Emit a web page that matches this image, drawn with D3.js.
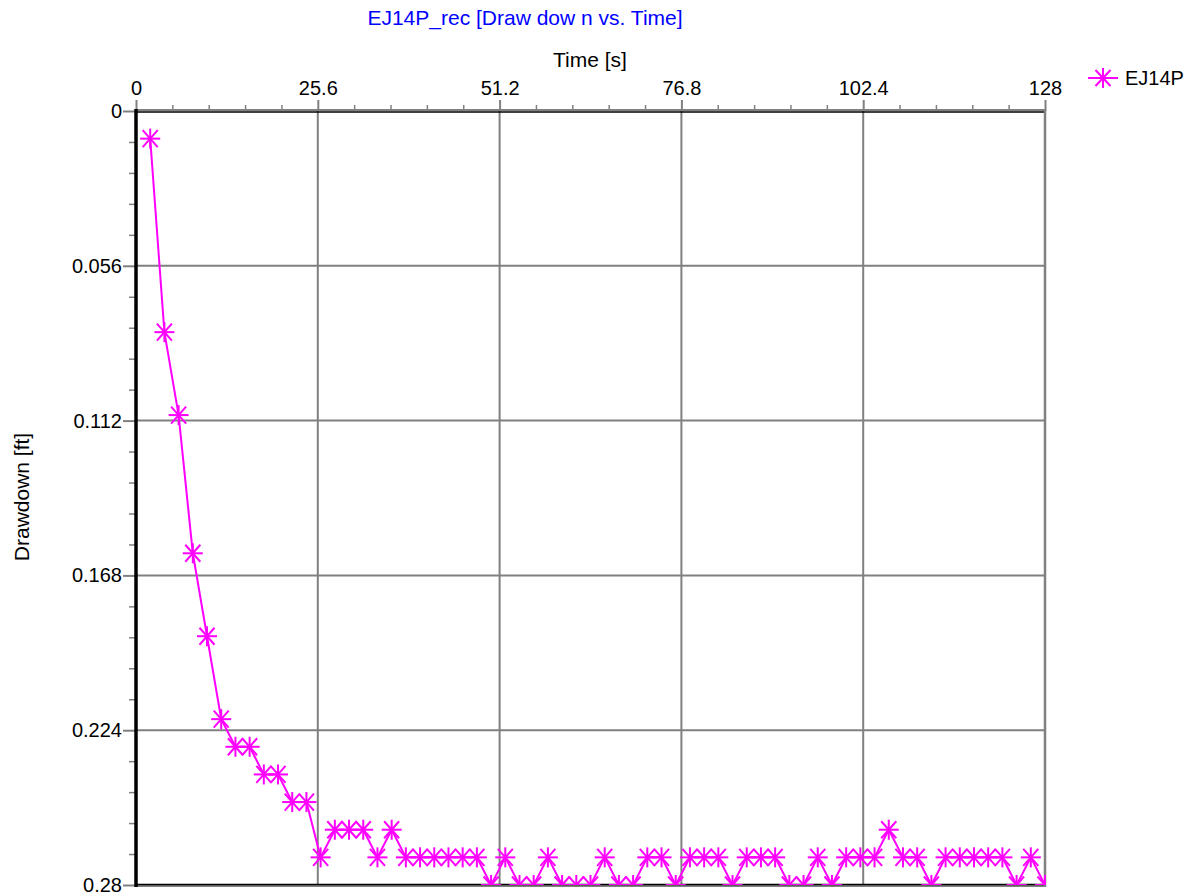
<!DOCTYPE html>
<html>
<head>
<meta charset="utf-8">
<script src="https://cdn.jsdelivr.net/npm/d3@7"></script>
<style>
  html, body { margin: 0; padding: 0; background: #fff; }
  svg { display: block; font-family: "Liberation Sans", Arial, sans-serif; }
</style>
</head>
<body>
<svg id="chart" width="1199" height="896"></svg>
<script>
// ---- Data ----
const seriesName = "EJ14P";
const timeValues = [2,4,6,8,10,12,14,16,18,20,22,24,26,28,30,32,34,36,38,40,42,44,46,48,50,52,54,56,58,60,62,64,66,68,70,72,74,76,78,80,82,84,86,88,90,92,94,96,98,100,102,104,106,108,110,112,114,116,118,120,122,124,126,128];
const drawdownValues = [0.010,0.080,0.110,0.160,0.190,0.220,0.230,0.230,0.240,0.240,0.250,0.250,0.270,0.260,0.260,0.260,0.270,0.260,0.270,0.270,0.270,0.270,0.270,0.270,0.280,0.270,0.280,0.280,0.270,0.280,0.280,0.280,0.270,0.280,0.280,0.270,0.270,0.280,0.270,0.270,0.270,0.280,0.270,0.270,0.270,0.280,0.280,0.270,0.280,0.270,0.270,0.270,0.260,0.270,0.270,0.280,0.270,0.270,0.270,0.270,0.270,0.280,0.270,0.280];
const xTickValues = [0, 25.6, 51.2, 76.8, 102.4, 128];
const xTickLabels = ["0", "25.6", "51.2", "76.8", "102.4", "128"];
const yTickValues = [0, 0.056, 0.112, 0.168, 0.224, 0.28];
const yTickLabels = ["0", "0.056", "0.112", "0.168", "0.224", "0.28"];
const titleText = "EJ14P_rec [Draw dow n vs. Time]";
const xAxisTitle = "Time [s]";
const yAxisTitle = "Drawdown [ft]";

const data = timeValues.map((t, i) => ({ t, v: drawdownValues[i] }));

// ---- Layout ----
const L = 136, R = 1045, T = 111, B = 885;
const FS = 20;
const FS_T = 21;
const FONT = "Liberation Sans, Arial, sans-serif";
const svg = d3.select("#chart");
const x = d3.scaleLinear().domain([0, 128]).range([L, R]);
const y = d3.scaleLinear().domain([0, 0.28]).range([T, B]);
const magenta = "#ff00ff";
const gridColor = "#808080";

// minor tick values
const xMinor = d3.range(0, 128.001, 5.12).filter(v => !xTickValues.some(m => Math.abs(m - v) < 1e-6));
const yMinor = d3.range(0, 0.28001, 0.0112).filter(v => !yTickValues.some(m => Math.abs(m - v) < 1e-9));

// Grid
const grid = svg.append("g");
grid.selectAll("line.vg").data(xTickValues.slice(1)).join("line")
  .attr("x1", d => x(d)).attr("x2", d => x(d)).attr("y1", T).attr("y2", B)
  .attr("stroke", gridColor).attr("stroke-width", 2);
grid.selectAll("line.hg").data(yTickValues.slice(1, -1)).join("line")
  .attr("x1", L).attr("x2", R).attr("y1", d => y(d)).attr("y2", d => y(d))
  .attr("stroke", gridColor).attr("stroke-width", 2);

// Frame: top & bottom gray + black
svg.append("line").attr("x1", L).attr("x2", R + 1).attr("y1", T - 1).attr("y2", T - 1).attr("stroke", gridColor).attr("stroke-width", 2);
svg.append("line").attr("x1", L).attr("x2", R + 1).attr("y1", T + 1).attr("y2", T + 1).attr("stroke", "#000").attr("stroke-width", 1.5);
svg.append("line").attr("x1", L).attr("x2", R + 1).attr("y1", B + 1).attr("y2", B + 1).attr("stroke", gridColor).attr("stroke-width", 2);
svg.append("line").attr("x1", L).attr("x2", R + 1).attr("y1", B - 0.5).attr("y2", B - 0.5).attr("stroke", "#000").attr("stroke-width", 1.5);

// Top axis
const xAxis = d3.axisTop(x).tickValues(xTickValues).tickSize(11).tickPadding(5)
  .tickFormat((d, i) => xTickLabels[i]);
const gx = svg.append("g").attr("transform", `translate(0,${T})`).call(xAxis)
  .attr("font-size", FS).attr("font-family", FONT);
gx.select(".domain").remove();
gx.selectAll(".tick line").attr("stroke", gridColor).attr("stroke-width", 2);
gx.selectAll(".tick text").attr("fill", "#000");
const xAxisMinor = d3.axisTop(x).tickValues(xMinor).tickSize(6).tickFormat("");
const gxm = svg.append("g").attr("transform", `translate(0,${T})`).call(xAxisMinor);
gxm.select(".domain").remove();
gxm.selectAll(".tick line").attr("stroke", gridColor).attr("stroke-width", 1.5);

// Left axis
const yAxis = d3.axisLeft(y).tickValues(yTickValues).tickSize(13).tickPadding(1)
  .tickFormat((d, i) => yTickLabels[i]);
const gy = svg.append("g").attr("transform", `translate(${L},0)`).call(yAxis)
  .attr("font-size", FS).attr("font-family", FONT);
gy.select(".domain").remove();
gy.selectAll(".tick line").attr("stroke", gridColor).attr("stroke-width", 2);
gy.selectAll(".tick text").attr("fill", "#000");
const yAxisMinor = d3.axisLeft(y).tickValues(yMinor).tickSize(7).tickFormat("");
const gym = svg.append("g").attr("transform", `translate(${L},0)`).call(yAxisMinor);
gym.select(".domain").remove();
gym.selectAll(".tick line").attr("stroke", gridColor).attr("stroke-width", 1.5);

// Right border
svg.append("line").attr("x1", R).attr("x2", R).attr("y1", T - 1).attr("y2", B + 2)
  .attr("stroke", gridColor).attr("stroke-width", 2.5);
// Left thick black axis line
svg.append("line").attr("x1", L).attr("x2", L).attr("y1", T - 2).attr("y2", B + 2)
  .attr("stroke", "#000").attr("stroke-width", 3.5);

// Clip
svg.append("defs").append("clipPath").attr("id", "plotclip")
  .append("rect").attr("x", L + 1).attr("y", T).attr("width", R - L).attr("height", B - T);

const plot = svg.append("g").attr("clip-path", "url(#plotclip)");
const line = d3.line().x(d => x(d.t)).y(d => y(d.v));
plot.append("path").datum(data).attr("d", line)
  .attr("fill", "none").attr("stroke", magenta).attr("stroke-width", 2);

function asterisk(sel, s, dgx, dgy) {
  const segs = [[-s, 0, s, 0], [0, -s, 0, s], [-dgx, -dgy, dgx, dgy], [-dgx, dgy, dgx, -dgy]];
  sel.selectAll("line").data(segs).join("line")
    .attr("x1", d => d[0]).attr("y1", d => d[1]).attr("x2", d => d[2]).attr("y2", d => d[3])
    .attr("stroke", magenta).attr("stroke-width", 2);
}
plot.selectAll("g.mk").data(data).join("g").attr("class", "mk")
  .attr("transform", d => `translate(${x(d.t)},${y(d.v)})`)
  .each(function () { asterisk(d3.select(this), 10, 7.5, 8.5); });

// Titles
svg.append("text").attr("x", 525).attr("y", 25).attr("text-anchor", "middle")
  .attr("font-size", FS_T).attr("fill", "#0000ff").text(titleText);
svg.append("text").attr("x", 590).attr("y", 67).attr("text-anchor", "middle")
  .attr("font-size", FS_T).attr("fill", "#000").text(xAxisTitle);
svg.append("text").attr("transform", "translate(29,497) rotate(-90)").attr("text-anchor", "middle")
  .attr("font-size", FS_T).attr("fill", "#000").text(yAxisTitle);

// Legend
const lg = svg.append("g").attr("transform", "translate(1103,78)");
lg.append("line").attr("x1", -15).attr("x2", 15).attr("y1", 0).attr("y2", 0)
  .attr("stroke", magenta).attr("stroke-width", 2);
asterisk(lg.append("g"), 10, 7.5, 8);
svg.append("text").attr("x", 1125).attr("y", 85).attr("font-size", FS).attr("fill", "#000").text(seriesName);
</script>
</body>
</html>
